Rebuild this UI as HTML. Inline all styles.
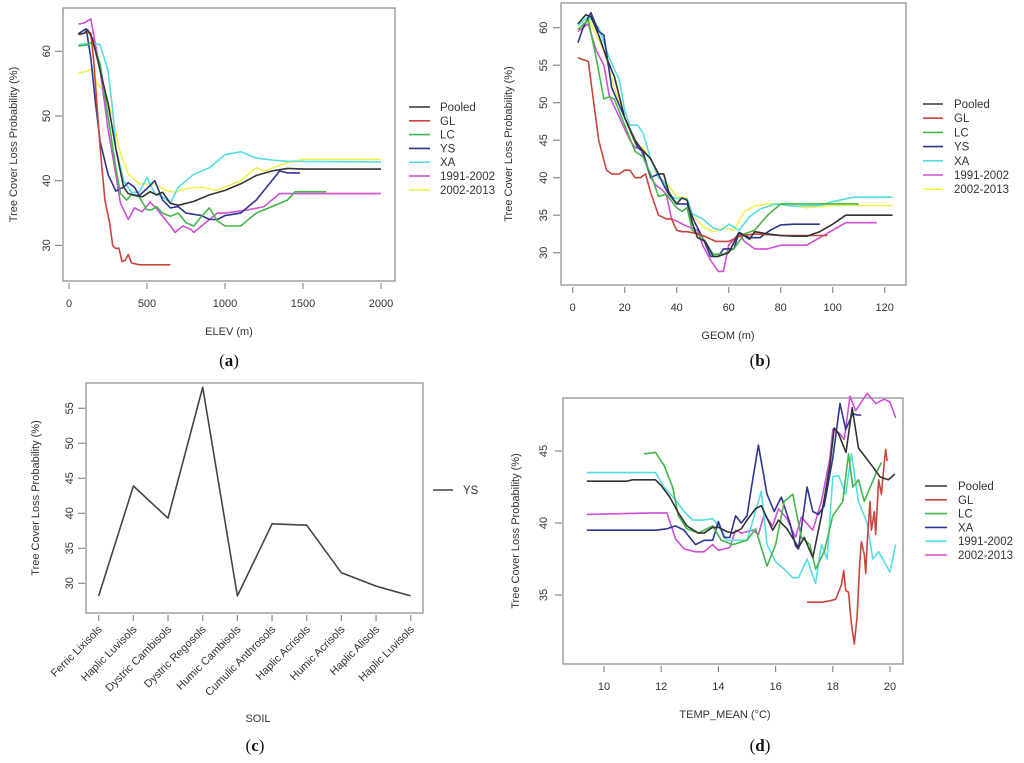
<!DOCTYPE html>
<html><head><meta charset="utf-8"><style>
html,body{margin:0;padding:0;background:#fff;}
svg{display:block;font-family:"Liberation Sans",Arial,sans-serif;}
</style></head><body>
<svg id="fig" width="1024" height="763" viewBox="0 0 1024 763" xmlns="http://www.w3.org/2000/svg"></svg>
<script>
// ---------- Panel (a) ELEV ----------
const aPooled=[[60,62.6],[100,62.8],[120,63.3],[150,62],[200,57],[250,52],[300,45],[350,39],[380,38],[420,37.8],[470,37.5],[520,38.3],[560,37.8],[600,38.2],[650,36.5],[700,36.2],[800,36.8],[900,37.8],[1000,38.5],[1100,39.5],[1200,40.8],[1300,41.5],[1400,41.9],[1500,41.8],[2000,41.8]];
const aGL=[[100,63],[140,62.8],[160,58],[200,45],[230,37],[260,33.5],[280,30],[300,29.5],[320,29.6],[340,27.5],[360,27.7],[380,28.6],[400,27.3],[450,27],[650,27]];
const aLC=[[60,60.8],[120,61],[150,61.5],[200,58],[250,50],[300,42],[330,38],[370,37],[400,37.8],[450,37.5],[500,35.5],[530,35.5],[560,36],[600,35],[650,34.5],[700,35],[750,33.5],[800,33],[850,34.5],[900,35.8],[950,33.8],[1000,33],[1100,33],[1150,34],[1200,35],[1300,36],[1400,37],[1450,38.3],[1650,38.3]];
const aYS=[[60,62.7],[110,63.5],[140,59],[170,52],[200,46],[250,41],[300,38.4],[350,39],[380,39.7],[420,39],[450,37.7],[500,38.8],[550,40],[600,37],[650,35.8],[700,36],[750,35],[850,34.6],[900,34],[950,34],[1000,34.6],[1100,35],[1200,37],[1300,40],[1350,41.5],[1400,41.2],[1480,41.2]];
const aXA=[[60,61],[150,61.3],[200,61],[250,57],[280,51],[300,45],[350,40],[400,38.2],[450,38.2],[500,40.5],[550,38],[600,37.5],[650,36.5],[700,39],[800,41],[900,42],[1000,44],[1100,44.5],[1200,43.5],[1300,43.2],[1400,43],[2000,42.9]];
const aP1=[[60,64.2],[100,64.4],[140,65],[170,61],[200,57],[250,48],[300,41],[330,36.5],[380,34],[420,35.8],[470,35.2],[520,36.7],[560,35.7],[600,34.5],[650,33],[680,32],[730,33],[780,32.5],[800,32],[850,33],[950,35],[1000,35],[1150,35.5],[1250,36],[1350,38],[1450,38],[2000,38]];
const aP2=[[60,56.6],[150,57.2],[180,55],[220,54],[280,50],[320,45],[380,41],[450,39.5],[550,39.5],[620,38.5],[680,38.2],[750,38.8],[850,39],[950,38.5],[1100,40],[1200,42],[1250,41.5],[1400,42.8],[1500,43.3],[2000,43.3]];
const aXTicks=[0,500,1000,1500,2000];
const aYTicks=[30,40,50,60];

// ---------- Panel (b) GEOM ----------
const bPooled=[[2,60.5],[5,61.7],[7,61.5],[10,59],[13,56],[16,53.5],[20,48],[24,45],[26,44],[30,42.5],[33,40.5],[35,40.5],[37,38],[40,36.5],[42,37.3],[44,37],[46,34],[48,32],[51,31.5],[54,29.5],[56,29.5],[60,30],[64,32.7],[68,31.8],[70,32.8],[75,32.5],[80,32.3],[85,32.2],[90,32.2],[95,32.8],[100,33.8],[105,35],[110,35],[123,35]];
const bGL=[[2,56],[6,55.5],[10,45],[13,41],[15,40.5],[18,40.5],[20,41],[22,41],[24,40],[26,40],[28,40.5],[30,38],[33,35],[36,34.5],[38,34.5],[40,33],[42,32.8],[44,32.8],[47,32.6],[50,32.3],[55,31.5],[60,31.5],[65,32.3],[70,32.5],[80,32.3],[90,32.3],[98,32.3]];
const bLC=[[2,59.8],[6,61],[9,56],[12,50.5],[14,50.8],[16,50.5],[20,47],[24,43.5],[27,42.8],[30,40.5],[33,37.5],[36,37.8],[40,36],[42,35.5],[44,36],[46,33],[50,32],[54,29.8],[58,29.8],[62,30.5],[66,32.5],[70,33],[75,35],[80,36.5],[85,36.5],[90,36.5],[110,36.5]];
const bYS=[[2,58],[4,60],[7,62],[10,59.5],[12,59],[15,52],[20,48],[25,44],[27,43.5],[30,40],[33,40.5],[35,39],[37,37.8],[40,36.5],[44,36.5],[47,34],[50,32],[53,29.5],[56,29.5],[58,30.5],[62,30.5],[64,32.7],[68,32],[72,32],[76,33],[80,33.7],[85,33.8],[95,33.8]];
const bXA=[[2,60.3],[6,61.5],[10,60],[14,56],[18,53],[20,49],[22,47],[25,47],[27,46],[30,42.5],[33,40],[35,39.5],[38,37.5],[40,37.2],[44,37.2],[46,35.2],[50,34.5],[54,33.3],[57,33],[60,33.8],[64,33],[68,34.8],[72,35.8],[78,36.5],[85,36.2],[95,36.3],[100,36.8],[108,37.4],[123,37.4]];
const bP1=[[2,59.5],[6,60.5],[9,57],[12,55],[14,51],[18,48],[22,45],[24,44],[26,44],[28,42],[30,40],[32,39],[34,38.5],[36,37.8],[38,34.5],[40,34.2],[44,33.5],[48,33],[50,31],[53,29],[56,27.5],[58,27.5],[60,31],[64,32.6],[66,31.5],[70,30.5],[75,30.5],[80,31],[90,31],[95,32],[100,33],[105,34],[117,34]];
const bP2=[[2,59.5],[6,61.3],[9,59],[12,57],[16,52],[20,48],[24,44.5],[27,44],[30,42.5],[33,40],[36,39.3],[40,37.5],[44,37.3],[46,35],[50,33.5],[54,32.8],[58,33.3],[62,33],[66,35.5],[70,36.2],[75,36.5],[80,36.5],[90,36],[100,36.3],[123,36.3]];
const bXTicks=[0,20,40,60,80,100,120];
const bYTicks=[30,35,40,45,50,55,60];

// ---------- Panel (c) SOIL ----------
const cCategories=["Ferric Lixisols","Haplic Luvisols","Dystric Cambisols","Dystric Regosols","Humic Cambisols","Cumulic Anthrosols","Haplic Acrisols","Humic Acrisols","Haplic Alisols","Haplic Luvisols"];
const cYS=[28.2,43.9,39.3,58,28.2,38.5,38.3,31.5,29.6,28.2];
const cYTicks=[30,35,40,45,50,55];

// ---------- Panel (d) TEMP_MEAN ----------
const dPooled=[[9.4,42.9],[10.8,42.9],[11,43],[11.8,43],[12,42.6],[12.3,41.8],[12.6,40.7],[12.9,39.8],[13.3,39.3],[13.5,39.3],[13.8,39.7],[14,39.7],[14.3,39.4],[14.5,39.3],[14.8,39.6],[15,40.2],[15.3,41],[15.5,41.2],[15.9,39.5],[16.1,40.2],[16.4,39.6],[16.8,38.3],[17,39],[17.3,37.6],[17.6,40.5],[17.9,44],[18.05,46.6],[18.2,46.2],[18.46,44.9],[18.68,48],[18.9,45.2],[19.4,43.9],[19.65,43.2],[19.94,43],[20.17,43.4]];
const dGL=[[17.1,34.5],[17.6,34.5],[17.9,34.6],[18.1,34.7],[18.3,35.7],[18.38,36.7],[18.45,35.3],[18.55,35.2],[18.65,33],[18.75,31.6],[18.85,33.5],[18.95,37.5],[19.0,38.7],[19.1,37.8],[19.15,36.5],[19.2,38.5],[19.3,41.5],[19.35,39.5],[19.45,40.8],[19.5,39.2],[19.6,43],[19.7,42],[19.8,44.2],[19.85,45.1],[19.9,44.3]];
const dLC=[[11.4,44.8],[11.8,44.9],[12.1,44],[12.4,42.5],[12.6,40.5],[12.9,39.6],[13.3,39.3],[13.8,39.8],[14.1,38.8],[14.5,38.5],[15,38.8],[15.3,39.6],[15.7,37],[16,38.5],[16.3,41.5],[16.6,42],[16.9,39],[17.2,38.5],[17.4,36.8],[17.7,38],[18,40.5],[18.35,41.5],[18.55,44.8],[18.7,42.5],[18.9,43],[19.1,41.5],[19.5,43.4],[19.7,44.2]];
const dXA=[[9.4,39.5],[11.8,39.5],[12.2,39.6],[12.5,39.8],[12.8,39.5],[13.2,38.5],[13.5,38.8],[13.8,38.8],[14,40.1],[14.2,39],[14.4,39],[14.6,40.5],[14.8,40],[15,40.5],[15.2,43],[15.4,45.4],[15.7,42],[15.95,40.8],[16.2,41.8],[16.5,40],[16.7,38.4],[16.8,38.2],[17.1,42.5],[17.3,40.8],[17.5,40.6],[17.7,41.2],[18,44.5],[18.25,48.3],[18.45,46.5],[18.7,47.6],[18.85,47.5],[19,47.5]];
const dP1=[[9.4,43.5],[11.8,43.5],[12.1,42.5],[12.5,41.6],[12.8,40.8],[13.1,40.2],[13.5,40.2],[13.8,40.3],[14,39.8],[14.3,38.8],[14.6,38.8],[15,38.8],[15.3,40.8],[15.5,42.2],[15.7,38.5],[16,37.3],[16.3,36.8],[16.6,36.2],[16.8,36.2],[17.1,37.5],[17.4,35.8],[17.6,38.5],[17.8,37.5],[18,43.2],[18.2,43.3],[18.45,42],[18.65,44.8],[18.9,41.5],[19.2,40],[19.4,37.5],[19.6,38],[20,36.6],[20.2,38.5]];
const dP2=[[9.4,40.6],[11.8,40.7],[12.2,40.7],[12.5,38.9],[12.8,38.2],[13.2,38],[13.5,38],[13.8,38.5],[14,38.1],[14.4,38.3],[14.6,39.5],[14.8,39.3],[15.2,39.5],[15.4,39.2],[15.6,40.6],[15.9,39.8],[16.1,41],[16.4,40.3],[16.7,39],[16.9,40.4],[17.3,39.5],[17.6,41.5],[17.9,44.5],[18,46.5],[18.2,46.3],[18.4,45.8],[18.6,48.8],[18.8,47.8],[19.2,49],[19.5,48.3],[19.8,48.6],[20,48.4],[20.2,47.3]];
const dXTicks=[10,12,14,16,18,20];
const dYTicks=[35,40,45];

const COL={Pooled:"#333333",GL:"#c8463c",LC:"#45b64a",YS:"#2e3592",XA:"#55dde2","1991-2002":"#cf4fd6","2002-2013":"#f2f050"};
const NS="http://www.w3.org/2000/svg";
const svg=document.getElementById('fig');
function mk(tag,attrs,parent){const e=document.createElementNS(NS,tag);for(const k in attrs)e.setAttribute(k,attrs[k]);(parent||svg).appendChild(e);return e;}
function txt(s,x,y,size,parent,extra){const t=mk('text',Object.assign({x:x,y:y,'font-size':size,fill:'#333'},extra||{}),parent);t.textContent=s;return t;}

function panel(id,box,xs,ys,xticks,yticks,xtitle,ytitle,ytx,caption,capx,capy,xtitleY,ylabOff){
  const g=mk('g',{});
  
  
  const r=mk('rect',{x:box[0],y:box[1],width:box[2]-box[0],height:box[3]-box[1],fill:'none',stroke:'#888','stroke-width':1.2},g);
  
  
  if(xticks){
    xticks.forEach(v=>{
      const X=xs(v);
      const l=mk('line',{x1:X,x2:X,y1:box[3]+2,y2:box[3]+8,stroke:'#888','stroke-width':1.2},g);
      
      
      const t=txt(String(v),X,box[3]+26,11,g,{'text-anchor':'middle'});
      
      
    });
  }
  yticks.forEach(v=>{
    const Y=ys(v);
    const l=mk('line',{x1:box[0]-1,x2:box[0]-8,y1:Y,y2:Y,stroke:'#888','stroke-width':1.2},g);
    
    
    const lx=box[0]-ylabOff;
    const t=txt(String(v),lx,Y,11,g,{'text-anchor':'middle',transform:'rotate(-90 '+lx+' '+Y+')'});
    
    
  });
  const xt=txt(xtitle,(xtitleY[0]),xtitleY[1],11,g,{'text-anchor':'middle'});
  
  
  const cy=(box[1]+box[3])/2;
  const yt=txt(ytitle,ytx,cy,11,g,{'text-anchor':'middle',transform:'rotate(-90 '+ytx+' '+cy+')'});
  
  
  const c=mk('text',{x:capx,y:capy,'font-size':17,'text-anchor':'middle',fill:'#111','font-family':'"Liberation Serif",serif'},g);
  c.innerHTML='(<tspan font-weight="bold">'+caption+'</tspan>)';
  
  
  return g;
}
function series(g,pts,xs,ys,color,name){
  const d=pts.map((p,i)=>(i?'L':'M')+xs(p[0]).toFixed(1)+' '+ys(p[1]).toFixed(1)).join(' ');
  const p=mk('path',{d:d,fill:'none',stroke:color,'stroke-width':1.6,'stroke-linejoin':'round'},g);
  
  
}
function legend(g,names,lx1,lx2,tx,y0,dy){
  names.forEach((n,i)=>{
    const y=y0+i*dy;
    const l=mk('line',{x1:lx1,x2:lx2,y1:y,y2:y,stroke:COL[n],'stroke-width':1.6},g);
    
    
    const t=txt(n,tx,y+4,11.5,g);
    
    
  });
}

// Panel a
{const xs=v=>69+v*0.156, ys=v=>51.3+(60-v)*6.47;
 const g=panel('a',[63,8,395,281],xs,ys,aXTicks,aYTicks,'ELEV (m)','Tree Cover Loss Probability (%)',17,'a',229,366,[229,335],13);
 const S=[['Pooled',aPooled],['GL',aGL],['LC',aLC],['YS',aYS],['XA',aXA],['1991-2002',aP1],['2002-2013',aP2]];
 S.slice().reverse().forEach(s=>series(g,s[1],xs,ys,COL[s[0]],s[0]));
 legend(g,S.map(s=>s[0]),409,430,440,107,13.8);}
// Panel b
{const xs=v=>572.7+v*2.6, ys=v=>27.7+(60-v)*7.5;
 const g=panel('b',[561,3,906,285],xs,ys,bXTicks,bYTicks,'GEOM (m)','Tree Cover Loss Probability (%)',512,'b',760,366,[728,339],14);
 const S=[['Pooled',bPooled],['GL',bGL],['LC',bLC],['YS',bYS],['XA',bXA],['1991-2002',bP1],['2002-2013',bP2]];
 S.slice().reverse().forEach(s=>series(g,s[1],xs,ys,COL[s[0]],s[0]));
 legend(g,S.map(s=>s[0]),923,943,954,104,14.2);}
// Panel c
{const xs=i=>98.7+i*34.67, ys=v=>408.3+(55-v)*7;
 const g=panel('c',[86,383,423,613],xs,ys,null,cYTicks,'SOIL','Tree Cover Loss Probability (%)',39,'c',255,751,[258,722],13);
 cCategories.forEach((n,i)=>{
   const X=xs(i);
   const l=mk('line',{x1:X,x2:X,y1:615,y2:621,stroke:'#888','stroke-width':1.2},g);
   
   
   const t=txt(n,X+4,630,11,g,{'text-anchor':'end',transform:'rotate(-45 '+(X+4)+' 630)'});
   
   
 });
 series(g,cYS.map((v,i)=>[i,v]),xs,ys,'#444','YS');
 const l=mk('line',{x1:433,x2:453,y1:490,y2:490,stroke:'#444','stroke-width':1.6},g);
 
 
 const t=txt('YS',463,494,11.5,g);
 
 }
// Panel d
{const xs=v=>604+(v-10)*28.6, ys=v=>451+(45-v)*14.4;
 const g=panel('d',[563,398,903,664],xs,ys,dXTicks,dYTicks,'TEMP_MEAN (°C)','Tree Cover Loss Probability (%)',519,'d',760,751,[725,718],16);
 const S=[['Pooled',dPooled],['GL',dGL],['LC',dLC],['XA',dXA],['1991-2002',dP1],['2002-2013',dP2]];
 const cmap={Pooled:COL.Pooled,GL:COL.GL,LC:COL.LC,XA:COL.YS,'1991-2002':COL.XA,'2002-2013':COL['1991-2002']};
 S.slice().reverse().forEach(s=>series(g,s[1],xs,ys,cmap[s[0]],s[0]));
 S.forEach((s,i)=>{
   const y=486+i*13.8;
   const l=mk('line',{x1:925,x2:947,y1:y,y2:y,stroke:cmap[s[0]],'stroke-width':1.6},g);
   
   
   const t=txt(s[0],958,y+4,11.5,g);
   
   
 });}
</script>
</body></html>
